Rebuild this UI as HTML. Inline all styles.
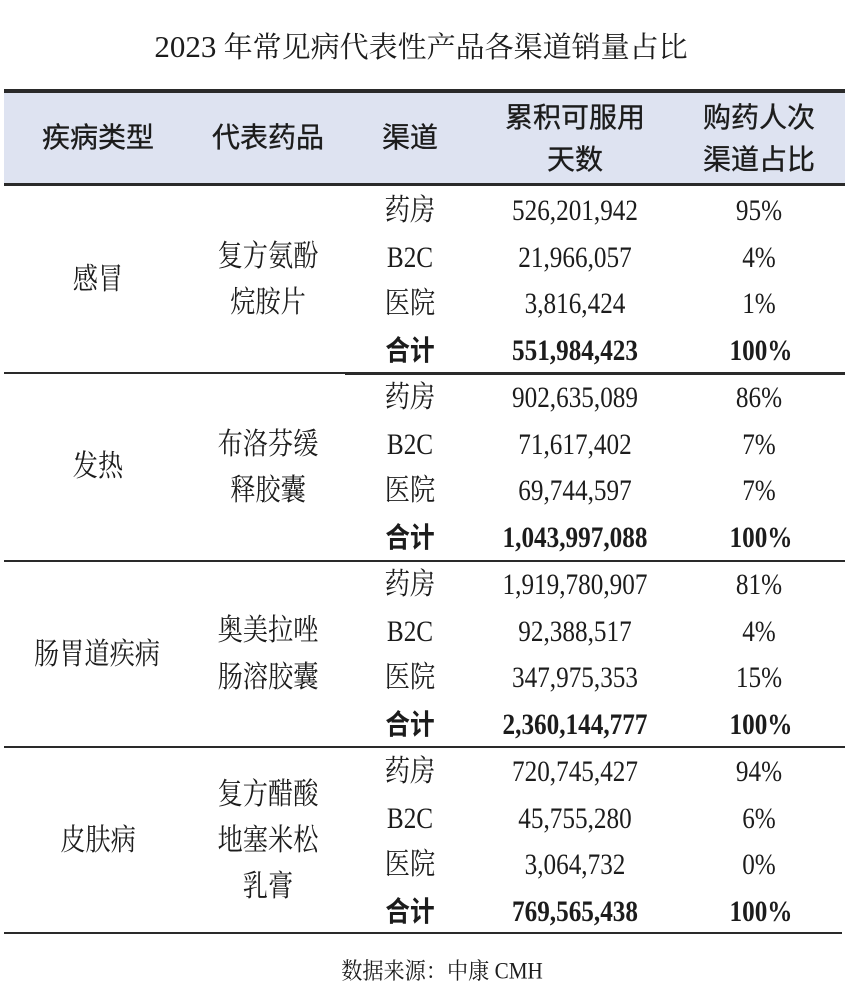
<!DOCTYPE html>
<html><head><meta charset="utf-8">
<style>
html,body{margin:0;padding:0;background:#fff;}
#c{position:relative;width:851px;height:1002px;overflow:hidden;background:#fff;color:#1c1c1c;}
.t{position:absolute;white-space:nowrap;line-height:1;transform:translate(-50%,-50%) scaleX(0.84);}
.s{font-family:"Liberation Serif","Noto Serif CJK SC",serif;font-size:30px;}
.h{font-family:"Liberation Sans","Noto Sans CJK SC",sans-serif;font-size:28px;transform:translate(-50%,-50%);-webkit-text-stroke:0.35px #1c1c1c;}
.b{font-weight:bold;}
.hb{font-family:"Liberation Sans","Noto Sans CJK SC",sans-serif;font-weight:bold;font-size:28px;transform:translate(-50%,-50%) scaleX(0.88);}
.ln{position:absolute;background:#2a2a2a;}
</style></head><body>
<div id="c">
<div class="t" style="left:421px;top:47px;font-family:'Liberation Serif','Noto Serif CJK SC',serif;font-size:29px;letter-spacing:0;transform:translate(-50%,-50%);"><span style="font-size:31px;">2023</span> 年常见病代表性产品各渠道销量占比</div>

<div style="position:absolute;left:4px;top:92px;width:841px;height:91px;background:#dee3f1;"></div>
<div class="ln" style="left:4px;top:89px;width:841px;height:4px;"></div>
<div class="ln" style="left:4px;top:183px;width:841px;height:3px;"></div>

<div class="t h" style="left:98px;top:138px;">疾病类型</div>
<div class="t h" style="left:268px;top:138px;">代表药品</div>
<div class="t h" style="left:410px;top:138px;">渠道</div>
<div class="t h" style="left:575px;top:118px;">累积可服用</div>
<div class="t h" style="left:575px;top:160px;">天数</div>
<div class="t h" style="left:759px;top:118px;">购药人次</div>
<div class="t h" style="left:759px;top:160px;">渠道占比</div>

<!-- section lines -->
<div class="ln" style="left:4px;top:372px;width:341px;height:2px;"></div>
<div class="ln" style="left:345px;top:372px;width:500px;height:3px;"></div>
<div class="ln" style="left:4px;top:560px;width:841px;height:2px;"></div>
<div class="ln" style="left:4px;top:746px;width:841px;height:2px;"></div>
<div class="ln" style="left:4px;top:932px;width:838px;height:2px;"></div>

<!-- section 1 -->
<div class="t s" style="left:98px;top:280px;">感冒</div>
<div class="t s" style="left:268px;top:257px;">复方氨酚</div>
<div class="t s" style="left:268px;top:303px;">烷胺片</div>
<div class="t s" style="left:410px;top:211px;">药房</div>
<div class="t s" style="left:410px;top:258px;">B2C</div>
<div class="t s" style="left:410px;top:304px;">医院</div>
<div class="t hb" style="left:410px;top:351px;">合计</div>
<div class="t s" style="left:575px;top:211px;">526,201,942</div>
<div class="t s" style="left:575px;top:258px;">21,966,057</div>
<div class="t s" style="left:575px;top:304px;">3,816,424</div>
<div class="t s b" style="left:575px;top:351px;">551,984,423</div>
<div class="t s" style="left:759px;top:211px;">95%</div>
<div class="t s" style="left:759px;top:258px;">4%</div>
<div class="t s" style="left:759px;top:304px;">1%</div>
<div class="t s b" style="left:761px;top:351px;">100%</div>

<!-- section 2 -->
<div class="t s" style="left:98px;top:467px;">发热</div>
<div class="t s" style="left:268px;top:445px;">布洛芬缓</div>
<div class="t s" style="left:268px;top:491px;">释胶囊</div>
<div class="t s" style="left:410px;top:398px;">药房</div>
<div class="t s" style="left:410px;top:445px;">B2C</div>
<div class="t s" style="left:410px;top:491px;">医院</div>
<div class="t hb" style="left:410px;top:538px;">合计</div>
<div class="t s" style="left:575px;top:398px;">902,635,089</div>
<div class="t s" style="left:575px;top:445px;">71,617,402</div>
<div class="t s" style="left:575px;top:491px;">69,744,597</div>
<div class="t s b" style="left:575px;top:538px;">1,043,997,088</div>
<div class="t s" style="left:759px;top:398px;">86%</div>
<div class="t s" style="left:759px;top:445px;">7%</div>
<div class="t s" style="left:759px;top:491px;">7%</div>
<div class="t s b" style="left:761px;top:538px;">100%</div>

<!-- section 3 -->
<div class="t s" style="left:97px;top:655px;">肠胃道疾病</div>
<div class="t s" style="left:268px;top:631px;">奥美拉唑</div>
<div class="t s" style="left:268px;top:678px;">肠溶胶囊</div>
<div class="t s" style="left:410px;top:585px;">药房</div>
<div class="t s" style="left:410px;top:632px;">B2C</div>
<div class="t s" style="left:410px;top:678px;">医院</div>
<div class="t hb" style="left:410px;top:725px;">合计</div>
<div class="t s" style="left:575px;top:585px;">1,919,780,907</div>
<div class="t s" style="left:575px;top:632px;">92,388,517</div>
<div class="t s" style="left:575px;top:678px;">347,975,353</div>
<div class="t s b" style="left:575px;top:725px;">2,360,144,777</div>
<div class="t s" style="left:759px;top:585px;">81%</div>
<div class="t s" style="left:759px;top:632px;">4%</div>
<div class="t s" style="left:759px;top:678px;">15%</div>
<div class="t s b" style="left:761px;top:725px;">100%</div>

<!-- section 4 -->
<div class="t s" style="left:98px;top:841px;">皮肤病</div>
<div class="t s" style="left:268px;top:795px;">复方醋酸</div>
<div class="t s" style="left:268px;top:841px;">地塞米松</div>
<div class="t s" style="left:268px;top:887px;">乳膏</div>
<div class="t s" style="left:410px;top:772px;">药房</div>
<div class="t s" style="left:410px;top:819px;">B2C</div>
<div class="t s" style="left:410px;top:865px;">医院</div>
<div class="t hb" style="left:410px;top:912px;">合计</div>
<div class="t s" style="left:575px;top:772px;">720,745,427</div>
<div class="t s" style="left:575px;top:819px;">45,755,280</div>
<div class="t s" style="left:575px;top:865px;">3,064,732</div>
<div class="t s b" style="left:575px;top:912px;">769,565,438</div>
<div class="t s" style="left:759px;top:772px;">94%</div>
<div class="t s" style="left:759px;top:819px;">6%</div>
<div class="t s" style="left:759px;top:865px;">0%</div>
<div class="t s b" style="left:761px;top:912px;">100%</div>

<div class="t" style="left:442px;top:971px;font-family:'Liberation Serif','Noto Serif CJK SC',serif;font-size:23px;transform:translate(-50%,-50%) scaleX(0.92);">数据来源：中康 CMH</div>
</div>
</body></html>
